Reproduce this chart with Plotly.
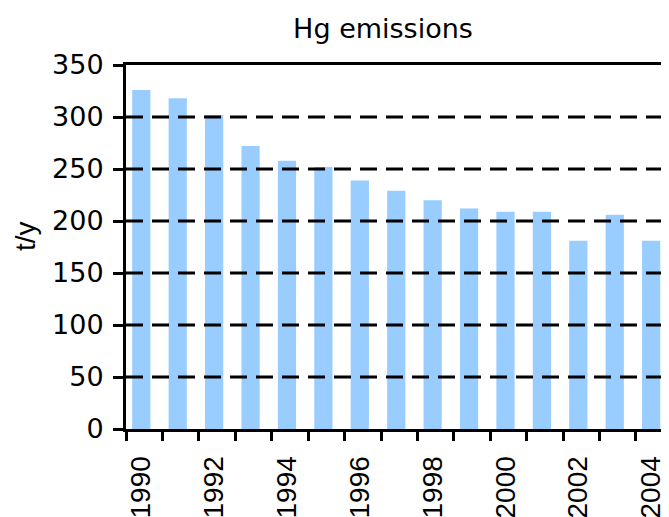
import plotly.graph_objects as go

years = [1990, 1991, 1992, 1993, 1994, 1995, 1996, 1997, 1998, 1999, 2000, 2001, 2002, 2003, 2004]
emissions = [326, 318, 302, 272, 258, 252, 239, 229, 220, 212, 209, 209, 181, 206, 181]
label_years = [1990, 1992, 1994, 1996, 1998, 2000, 2002, 2004]
label_text = [str(y) for y in label_years]
y_ticks = [0, 50, 100, 150, 200, 250, 300, 350]
grid_values = [50, 100, 150, 200, 250, 300]

FONT = "DejaVu Sans"
FONT_V = "Liberation Sans, Arial, sans-serif"
FS = 27

# page body has an 8px default margin; figure is sized to fit the window
W, H = 661, 509

fig = go.Figure()
fig.add_trace(go.Bar(x=years, y=emissions, width=0.5,
                     marker=dict(color="#99CCFF", line=dict(width=0))))

for g in grid_values:
    fig.add_shape(type="line", xref="paper", x0=0, x1=1, yref="y", y0=g, y1=g,
                  line=dict(color="black", width=3, dash="17px,9px"), layer="above")

boundaries = [y - 0.417 for y in years]

fig.update_layout(
    width=W, height=H,
    margin=dict(l=118, r=0, t=57, b=88, autoexpand=False),
    paper_bgcolor="white", plot_bgcolor="white",
    font=dict(family=FONT, size=FS, color="black"),
    showlegend=False,
    title=dict(text="Hg emissions", x=375/W, xref="container", xanchor="center",
               y=1 - 21/H, yref="container", yanchor="middle",
               font=dict(family=FONT, size=FS, color="black")),
    xaxis=dict(range=[1989.58, 2004.49], showline=True, linewidth=3, linecolor="black",
               mirror=True, showgrid=False, zeroline=False,
               tickmode="array", tickvals=label_years, ticktext=label_text,
               ticks="", tickangle=-90, ticklabelstandoff=13,
               tickfont=dict(family=FONT_V, size=28, color="black"),
               minor=dict(tickmode="array", tickvals=boundaries, ticks="outside",
                          ticklen=9, tickwidth=3, tickcolor="black", showgrid=False),
               automargin=False),
    yaxis=dict(range=[0, 350], showline=True, linewidth=3, linecolor="black",
               showgrid=False, zeroline=False,
               tickmode="array", tickvals=y_ticks, ticks="outside", ticklen=10,
               tickwidth=3, tickcolor="black", ticklabelstandoff=4,
               tickfont=dict(family=FONT, size=FS, color="black"),
               automargin=False),
    annotations=[dict(text="t/y", xref="paper", yref="paper", x=(25-126)/543, y=(429-236)/364,
                      xanchor="center", yanchor="middle", textangle=-90, showarrow=False,
                      font=dict(family=FONT_V, size=28, color="black"))],
)

fig.write_html("out.html")
